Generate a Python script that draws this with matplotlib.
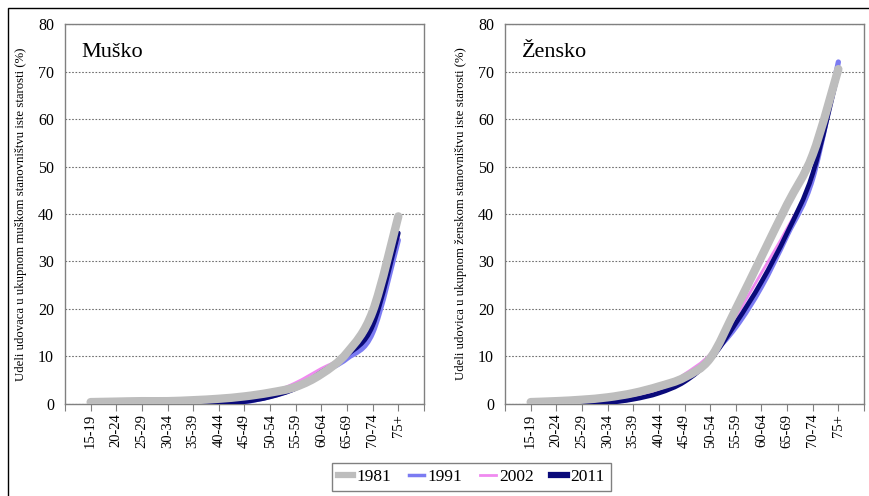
import numpy as np
import matplotlib
matplotlib.use('Agg')
import matplotlib.pyplot as plt
from matplotlib.path import Path
from matplotlib.patches import PathPatch, Rectangle
from matplotlib.lines import Line2D

plt.rcParams['font.family'] = ['Liberation Serif', 'DejaVu Serif']

age_groups = ['15-19', '20-24', '25-29', '30-34', '35-39', '40-44', '45-49',
              '50-54', '55-59', '60-64', '65-69', '70-74', '75+']
years = ['1981', '1991', '2002', '2011']

# Muško (udovci)
male_1981 = [0.4, 0.5, 0.6, 0.6, 0.8, 1.1, 1.6, 2.4, 3.6, 6.3, 10.8, 19.5, 39.5]
male_1991 = [0.1, 0.1, 0.1, 0.1, 0.1, 0.2, 0.5, 1.6, 3.4, 6.5, 9.6, 15.0, 34.5]
male_2002 = [0.1, 0.1, 0.1, 0.1, 0.2, 0.3, 0.8, 2.3, 4.5, 7.5, 10.5, 18.0, 35.0]
male_2011 = [0.0, 0.0, 0.0, 0.0, 0.0, 0.1, 0.5, 1.5, 3.3, 6.7, 10.3, 16.5, 36.0]

# Žensko (udovice)
female_1981 = [0.4, 0.6, 0.9, 1.4, 2.3, 3.7, 5.6, 9.6, 20.0, 31.0, 42.0, 52.5, 70.5]
female_1991 = [0.1, 0.1, 0.2, 0.4, 1.2, 2.6, 5.0, 10.0, 16.2, 24.7, 35.5, 47.5, 72.0]
female_2002 = [0.1, 0.1, 0.2, 0.5, 1.3, 3.0, 6.3, 10.5, 18.4, 27.6, 37.0, 48.0, 70.5]
female_2011 = [0.0, 0.0, 0.1, 0.3, 1.0, 2.3, 4.7, 9.3, 17.0, 25.7, 36.0, 48.5, 70.0]

colors = {'1981': '#bdbdbd', '1991': '#7b7bf2', '2002': '#f08af0', '2011': '#0a0a7a'}
widths = {'1981': 6.0, '1991': 3.8, '2002': 2.0, '2011': 3.4}
zorders = {'1981': 6, '1991': 3, '2002': 4, '2011': 5}


def smooth_path(xs, ys, t=1 / 6):
    # Excel-like smoothed line: Bezier segments through the data points
    pts = np.column_stack([xs, ys]).astype(float)
    n = len(pts)
    verts = [pts[0]]
    codes = [Path.MOVETO]
    for i in range(n - 1):
        p0 = pts[i - 1] if i > 0 else pts[i]
        p1 = pts[i]
        p2 = pts[i + 1]
        p3 = pts[i + 2] if i + 2 < n else pts[i + 1]
        c1 = p1 + (p2 - p0) * t
        c2 = p2 - (p3 - p1) * t
        verts += [c1, c2, p2]
        codes += [Path.CURVE4] * 3
    return Path(verts, codes)


fig = plt.figure(figsize=(8.7, 4.96), dpi=100)

# outer frame
fig.add_artist(Rectangle((8 / 870, -0.1), 1.2, (496 - 8) / 496 + 0.1,
                         transform=fig.transFigure, fill=False,
                         edgecolor='black', linewidth=1.0, clip_on=False))

panels = [
    (0.0747, 'Muško', 'Udeli udovaca u ukupnom muškom stanovništvu iste starosti (%)',
     [male_1981, male_1991, male_2002, male_2011]),
    (0.5805, 'Žensko', 'Udeli udovica u ukupnom ženskom stanovništvu iste starosti (%)',
     [female_1981, female_1991, female_2002, female_2011]),
]

x = np.arange(len(age_groups))
for left, title, ylabel, series in panels:
    ax = fig.add_axes([left, 0.1855, 0.4126, 0.7661])
    for yr, vals in zip(years, series):
        ax.add_patch(PathPatch(smooth_path(x, vals), fill=False,
                               edgecolor=colors[yr], linewidth=widths[yr],
                               capstyle='round', joinstyle='round',
                               zorder=zorders[yr]))
    ax.set_xlim(-1, len(age_groups))
    ax.set_ylim(0, 80)
    ax.set_yticks(range(0, 81, 10))
    ax.set_xticks(np.arange(-1, len(age_groups) + 1))
    ax.set_xticklabels([''] + age_groups + [''], rotation=90, fontsize=10.5)
    ax.tick_params(axis='x', direction='out', length=5, color='#808080', pad=2)
    ax.tick_params(axis='y', length=0, labelsize=11.5, pad=8)
    ax.yaxis.grid(True, color='#707070', linestyle=(0, (1.5, 1.5)), linewidth=0.8)
    ax.set_axisbelow(True)
    for s in ax.spines.values():
        s.set_color('#808080')
        s.set_linewidth(1.0)
    ax.text(0.047, 0.924, title, transform=ax.transAxes, fontsize=16,
            va='center', ha='left')
    ax.set_ylabel(ylabel, fontsize=9.2, labelpad=8)

handles = [Line2D([], [], color=colors[yr], linewidth=4.5 if yr in ('1981', '2011') else (2.5 if yr == '1991' else 2.0))
           for yr in years]
fig.legend(handles, years, loc='center', bbox_to_anchor=(0.5415, 0.039), ncol=4,
           frameon=True, fancybox=False, edgecolor='#606060', fontsize=12.5,
           handlelength=0.9, handletextpad=0.2, columnspacing=1.0,
           borderpad=0.35, borderaxespad=0)

fig.savefig('out.png', dpi=100)
